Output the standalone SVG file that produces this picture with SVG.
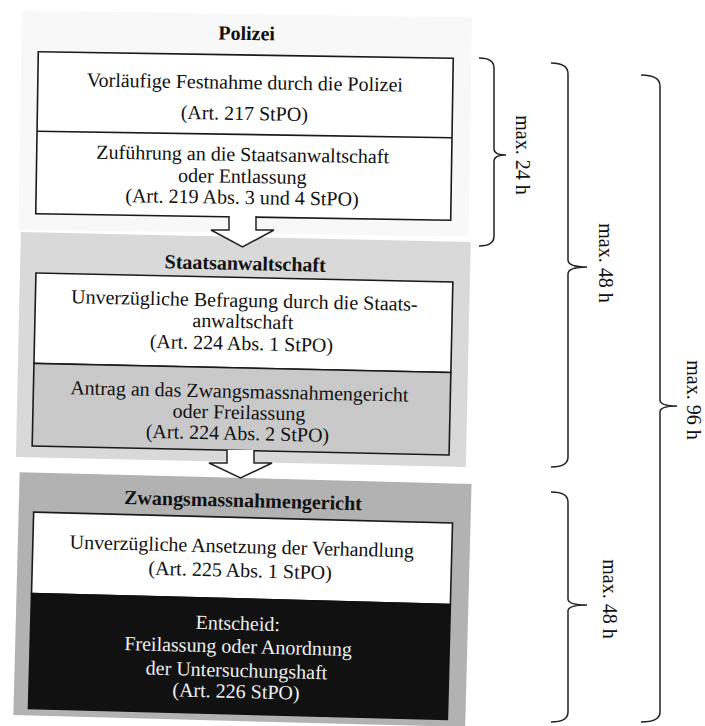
<svg xmlns="http://www.w3.org/2000/svg" width="705" height="726" viewBox="0 0 705 726">
  <style>
    .t { font-family: "Liberation Serif", "Times New Roman", serif; font-size: 20px; fill: #111; text-anchor: middle; }
    .inv { fill: #eeeeee; }
    .h { font-family: "Liberation Serif", "Times New Roman", serif; font-size: 20px; font-weight: bold; fill: #111; text-anchor: middle; }
    .box { fill: #fff; stroke: #1a1a1a; stroke-width: 1.6; }
    .div { stroke: #1a1a1a; stroke-width: 1.6; }
    .brace { fill: none; stroke: #222; stroke-width: 1.5; }
    .arrow { fill: #fff; stroke: #222; stroke-width: 1.5; stroke-linejoin: miter; }
    .lbl { font-family: "Liberation Serif", "Times New Roman", serif; font-size: 20px; fill: #111; text-anchor: middle; }
  </style>

  <rect width="705" height="726" fill="#fff"/>

  <!-- Police stage -->
  <g id="polizei" transform="rotate(0.9 245 136)">
    <rect x="20" y="14" width="450" height="219" fill="#f8f8f8"/>
    <text class="h" x="245" y="40">Polizei</text>
    <rect class="box" x="37" y="55" width="415" height="162"/>
    <line class="div" x1="37" y1="134.5" x2="452" y2="134.5"/>
    <text class="t" x="244" y="89">Vorläufige Festnahme durch die Polizei</text>
    <text class="t" x="244" y="120">(Art. 217 StPO)</text>
    <text class="t" x="243" y="161">Zuführung an die Staatsanwaltschaft</text>
    <text class="t" x="243" y="183">oder Entlassung</text>
    <text class="t" x="243" y="204">(Art. 219 Abs. 3 und 4 StPO)</text>
  </g>

  <!-- Public prosecutor stage -->
  <g id="staatsanwaltschaft" transform="rotate(1.25 243 364)">
    <rect x="18" y="237" width="450" height="225" fill="#d9d9d9"/>
    <text class="h" x="243" y="270">Staatsanwaltschaft</text>
    <rect class="box" x="34" y="277.5" width="417" height="90.5"/>
    <rect class="box" x="34" y="368" width="417" height="82.5" style="fill:#c9c9c9"/>
    <text class="t" x="243" y="307">Unverzügliche Befragung durch die Staats-</text>
    <text class="t" x="242" y="328">anwaltschaft</text>
    <text class="t" x="241" y="350">(Art. 224 Abs. 1 StPO)</text>
    <text class="t" x="240" y="398">Antrag an das Zwangsmassnahmengericht</text>
    <text class="t" x="240" y="419">oder Freilassung</text>
    <text class="t" x="239" y="440">(Art. 224 Abs. 2 StPO)</text>
  </g>

  <!-- Compulsory measures court stage -->
  <g id="zwangsmassnahmengericht" transform="rotate(1.5 240 616)">
    <rect x="16" y="478" width="452" height="243" fill="#b2b2b2"/>
    <text class="h" x="240" y="507">Zwangsmassnahmengericht</text>
    <rect class="box" x="31" y="517.5" width="419" height="81.5"/>
    <rect x="31" y="599" width="419" height="115" fill="#111" stroke="#111" stroke-width="1.6"/>
    <text class="t" x="240" y="553">Unverzügliche Ansetzung der Verhandlung</text>
    <text class="t" x="239" y="577">(Art. 225 Abs. 1 StPO)</text>
    <text class="t inv" x="238" y="630">Entscheid:</text>
    <text class="t inv" x="239" y="653">Freilassung oder Anordnung</text>
    <text class="t inv" x="238" y="677">der Untersuchungshaft</text>
    <text class="t inv" x="238" y="698">(Art. 226 StPO)</text>
  </g>

  <!-- Flow arrows and time braces -->
  <g id="connectors">
    <path class="arrow" d="M229,216 V230 H211 L242.5,247 L274,230 H256 V216"/>
    <path class="arrow" d="M227,450 V463 H209 L240.5,478 L272,463 H254 V450"/>

    <path class="brace" d="M479,58 Q494,58 494,68 L494,149 Q494,155 506,155 Q494,155 494,161 L494,236 Q494,246 479,246"/>
    <path class="brace" d="M551,63 Q568,63 568,74 L568,260 Q568,267 587,267 Q568,267 568,274 L568,457 Q568,467 551,467"/>
    <path class="brace" d="M641,75 Q660,75 660,86 L660,400 Q660,406 677,406 Q660,406 660,412 L660,712 Q660,722 641,722"/>
    <path class="brace" d="M551,492 Q568,492 568,502 L568,599 Q568,605 587,605 Q568,605 568,611 L568,712 Q568,722 551,722"/>

    <text class="lbl" transform="translate(516 155) rotate(90)">max. 24 h</text>
    <text class="lbl" transform="translate(599 263) rotate(90)">max. 48 h</text>
    <text class="lbl" transform="translate(687 400) rotate(90)">max. 96 h</text>
    <text class="lbl" transform="translate(603 599) rotate(90)">max. 48 h</text>
  </g>
</svg>
